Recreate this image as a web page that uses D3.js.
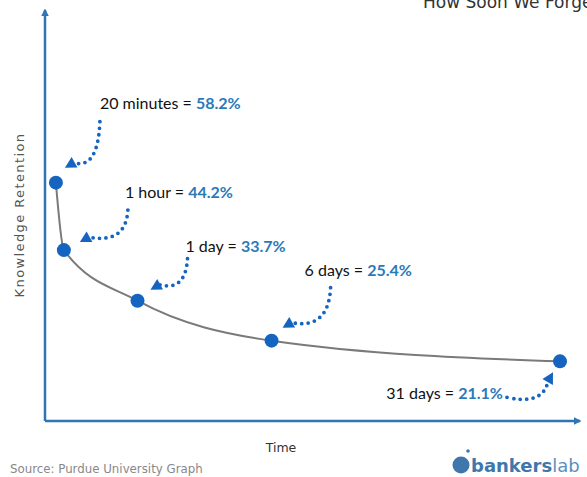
<!DOCTYPE html>
<html>
<head>
<meta charset="utf-8">
<script src="https://cdn.jsdelivr.net/npm/d3@7"></script>
<style>
  body { margin: 0; background: #fff; }
  svg { display: block; }
</style>
</head>
<body>
<div class="canvas"></div>
<script>
// Data
const labels = ['20 minutes', '1 hour', '1 day', '6 days', '31 days'];
const days = [20 / 1440, 1 / 24, 1, 6, 31];
const retention = [58.2, 44.2, 33.7, 25.4, 21.1];

// Annotation offsets from each point: label anchor, arrow start, arrow tip
const labelOffsets = [[44, -74], [61, -52], [48, -49], [33, -65], [-57, 38]];
const arrowStart = [[44, -61], [64, -40], [50, -42], [59, -53], [-53, 36]];
const arrowTip = [[9, -15], [16, -8], [13, -11], [11, -13], [-7, 11]];

const blue = '#1565c0';
const axisBlue = '#2f74b5';
const pctBlue = '#2a7ab8';

const dims = { width: 587, height: 477, left: 45, bottom: 421, top: 10, right: 580 };

const svg = d3.select('.canvas')
    .append('svg')
    .attr('width', dims.width)
    .attr('height', dims.height);

const defs = svg.append('defs');
defs.append('marker')
    .attr('id', 'axisHead')
    .attr('viewBox', '0 0 10 10')
    .attr('refX', 8).attr('refY', 5)
    .attr('markerWidth', 3).attr('markerHeight', 3)
    .attr('orient', 'auto')
    .append('path')
    .attr('d', 'M0,0 L10,5 L0,10 Z')
    .attr('fill', axisBlue);

// Scales
const xScale = d3.scaleSqrt()
    .domain([0, 31])
    .range([dims.left, 560]);

const yScale = d3.scaleLinear()
    .domain([0, 60])
    .range([463, 174]);

// Axes (plain arrows, no ticks)
svg.append('line')
    .attr('x1', dims.left).attr('y1', dims.bottom)
    .attr('x2', dims.left).attr('y2', dims.top)
    .attr('stroke', axisBlue).attr('stroke-width', 2.5)
    .attr('marker-end', 'url(#axisHead)');

svg.append('line')
    .attr('x1', dims.left).attr('y1', dims.bottom)
    .attr('x2', dims.right).attr('y2', dims.bottom)
    .attr('stroke', axisBlue).attr('stroke-width', 2.5)
    .attr('marker-end', 'url(#axisHead)');

// Curve
const points = days.map((d, i) => ({ x: xScale(d), y: yScale(retention[i]), i }));

const line = d3.line()
    .x(d => d.x)
    .y(d => d.y)
    .curve(d3.curveMonotoneX);

svg.append('path')
    .datum(points)
    .attr('d', line)
    .attr('fill', 'none')
    .attr('stroke', '#7a7a7a')
    .attr('stroke-width', 2);

svg.selectAll('circle.pt')
    .data(points)
    .enter()
    .append('circle')
    .attr('class', 'pt')
    .attr('cx', d => d.x)
    .attr('cy', d => d.y)
    .attr('r', 7)
    .attr('fill', blue);

// Dotted arrows
const arrows = svg.append('g');
points.forEach((p, i) => {
    const s = [p.x + arrowStart[i][0], p.y + arrowStart[i][1]];
    const t = [p.x + arrowTip[i][0], p.y + arrowTip[i][1]];
    let c, end;
    if (i < 4) {
        c = [s[0] - 2, t[1] + 2];
        end = [t[0] + 9, t[1] - 5];
    } else {
        c = [t[0] - 10, s[1] + 8];
        end = [t[0] - 5, t[1] + 9];
    }
    arrows.append('path')
        .attr('d', `M${s[0]},${s[1]} Q${c[0]},${c[1]} ${end[0]},${end[1]}`)
        .attr('fill', 'none')
        .attr('stroke', blue)
        .attr('stroke-width', 3.8)
        .attr('stroke-linecap', 'round')
        .attr('stroke-dasharray', '0 6.5');
    const ang = Math.atan2(t[1] - end[1], t[0] - end[0]);
    const len = 11, half = 6;
    const bx = t[0] - len * Math.cos(ang), by = t[1] - len * Math.sin(ang);
    const nx = -Math.sin(ang) * half, ny = Math.cos(ang) * half;
    arrows.append('path')
        .attr('d', `M${t[0]},${t[1]} L${bx + nx},${by + ny} L${bx - nx},${by - ny} Z`)
        .attr('fill', blue);
});

// Labels
const labelGroup = svg.append('g')
    .attr('font-family', 'Lato, "Open Sans", sans-serif')
    .attr('font-size', 16);

points.forEach((p, i) => {
    const t = labelGroup.append('text')
        .attr('x', p.x + labelOffsets[i][0])
        .attr('y', p.y + labelOffsets[i][1])
        .attr('text-anchor', i === 4 ? 'end' : 'start');
    t.append('tspan').attr('fill', '#111').text(`${labels[i]} = `);
    t.append('tspan').attr('fill', pctBlue).attr('font-weight', 'bold').text(`${retention[i]}%`);
});

// Axis titles
svg.append('text')
    .attr('transform', 'translate(24,215) rotate(-90)')
    .attr('text-anchor', 'middle')
    .attr('font-family', '"DejaVu Sans", sans-serif')
    .attr('font-size', 13)
    .attr('letter-spacing', 1.4)
    .attr('fill', '#555')
    .text('Knowledge Retention');

svg.append('text')
    .attr('x', 281).attr('y', 452)
    .attr('text-anchor', 'middle')
    .attr('font-family', '"DejaVu Sans", sans-serif')
    .attr('font-size', 12.5)
    .attr('fill', '#333')
    .text('Time');

svg.append('text')
    .attr('x', 10).attr('y', 473)
    .attr('font-family', '"DejaVu Sans", sans-serif')
    .attr('font-size', 11.8)
    .attr('fill', '#888')
    .text('Source: Purdue University Graph');

// Title (cut by the frame, as in the source image)
svg.append('text')
    .attr('x', 423).attr('y', 8)
    .attr('font-family', '"DejaVu Sans", sans-serif')
    .attr('font-size', 17)
    .attr('fill', '#333')
    .text('How Soon We Forget');

// Logo
const logo = svg.append('g');
logo.append('circle')
    .attr('cx', 461).attr('cy', 465).attr('r', 8.5)
    .attr('fill', '#3f77ad');
logo.append('circle')
    .attr('cx', 468).attr('cy', 451).attr('r', 1.8)
    .attr('fill', '#3f77ad');
logo.append('text')
    .attr('x', 471).attr('y', 472)
    .attr('font-family', '"DejaVu Sans", sans-serif')
    .attr('font-weight', 'bold')
    .attr('font-size', 18)
    .attr('fill', '#3f77ad')
    .text('bankers')
    .append('tspan')
    .attr('font-weight', 'normal')
    .attr('fill', '#5b8fc0')
    .text('lab');
</script>
</body>
</html>
